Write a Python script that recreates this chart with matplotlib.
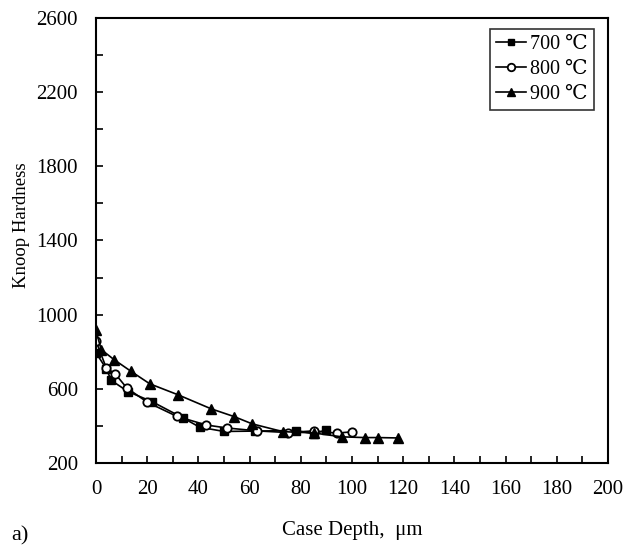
import numpy as np
import matplotlib.pyplot as plt
from matplotlib.ticker import MultipleLocator

plt.rcParams['font.family'] = ['Liberation Serif', 'DejaVu Serif']

# Case depth (um) and Knoop hardness for each treatment temperature
depth_700 = [0, 4, 6, 12.5, 22, 34, 40.5, 50, 62, 78, 85, 90]
hk_700    = [795, 708, 645, 585, 530, 443, 393, 370, 372, 375, 358, 378]

depth_800 = [0, 4, 7.5, 12, 20, 31.5, 43, 51, 63, 75, 85, 94, 100]
hk_800    = [858, 713, 681, 605, 528, 452, 405, 389, 373, 364, 373, 361, 368]

depth_900 = [0, 2, 7, 13.5, 21, 32, 45, 54, 61, 73, 85, 96, 105, 110, 118]
hk_900    = [915, 812, 758, 696, 627, 568, 492, 450, 411, 369, 362, 341, 337, 337, 335]

labels = ['700 \u2103', '800 \u2103', '900 \u2103']

fig = plt.figure(figsize=(6.37, 5.45), dpi=100)
ax = fig.add_axes([0.1507, 0.1505, 0.8038, 0.8165])

ax.plot(depth_700, hk_700, '-s', color='black', ms=5.5, lw=1.2, label=labels[0])
ax.plot(depth_800, hk_800, '-o', color='black', mfc='white', mew=1.3, ms=6, lw=1.2,
        label=labels[1])
ax.plot(depth_900, hk_900, '-^', color='black', ms=6.5, lw=1.2, label=labels[2])

ax.set_xlim(0, 200)
ax.set_ylim(200, 2600)
ax.xaxis.set_major_locator(MultipleLocator(20))
ax.xaxis.set_minor_locator(MultipleLocator(10))
ax.set_yticks(np.arange(200, 2601, 400))
ax.yaxis.set_minor_locator(MultipleLocator(200))
ax.tick_params(which='both', direction='in', top=False, right=False,
               labelsize=15, width=1.2, length=5)
ax.tick_params(axis='x', which='major', pad=12)
ax.tick_params(axis='y', which='major', pad=13)
for sp in ax.spines.values():
    sp.set_linewidth(1.5)

ax.set_xlabel('Case Depth,  \u03bcm', fontsize=15)
ax.xaxis.set_label_coords(0.5, -0.13)
ax.set_ylabel('Knoop Hardness', fontsize=13.5)
ax.yaxis.set_label_coords(-0.128, 0.535)
fig.text(0.018, 0.008, 'a)', fontsize=16)

leg = ax.legend(loc='upper right', bbox_to_anchor=(1 - 14 / 512, 1 - 11 / 445),
                borderaxespad=0, fontsize=14.5, frameon=True, fancybox=False,
                edgecolor='black', handlelength=1.5, handletextpad=0.2,
                borderpad=0.3, labelspacing=0.28, markerscale=0.9)
leg.get_frame().set_linewidth(1.2)

fig.savefig('out.png', dpi=100)
